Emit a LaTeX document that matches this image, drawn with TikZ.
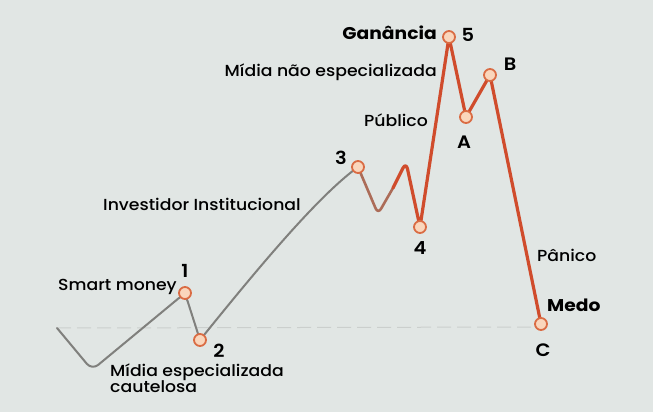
\documentclass[tikz,border=0pt]{standalone}
\usepackage{fontspec}
\setmainfont{Poppins}
\newfontfamily\medfont{Poppins Medium}[FakeStretch=1.08]
\newfontfamily\boldfont{Poppins SemiBold}[FakeStretch=1.08]
\newfontfamily\heavyfont{Poppins Bold}[FakeStretch=1.1]
\definecolor{bgc}{RGB}{225,230,228}
\definecolor{greyline}{RGB}{128,128,125}
\definecolor{redline}{RGB}{208,76,44}
\definecolor{mixline}{RGB}{172,108,88}
\definecolor{peach}{RGB}{250,214,188}
\definecolor{ptedge}{RGB}{218,108,68}
\definecolor{basec}{RGB}{203,207,205}
\tikzset{
  ptc/.style={circle, draw=ptedge, fill=peach, line width=1.8pt, minimum size=12pt, inner sep=0pt},
  lbl/.style={font=\medfont\fontsize{16}{17}\selectfont, text=black, inner sep=0pt},
  blbl/.style={font=\heavyfont\fontsize{17}{18}\selectfont, text=black, inner sep=0pt},
  num/.style={font=\boldfont\fontsize{18}{19}\selectfont, text=black, inner sep=0pt},
  gline/.style={draw=greyline, line width=2pt, line join=round, line cap=round},
  rline/.style={draw=redline, line width=3.2pt, line join=round, line cap=round},
}
\begin{document}
\begin{tikzpicture}[x=1pt,y=-1pt]
\fill[bgc] (0,0) rectangle (653,412);
\useasboundingbox (0,0) rectangle (653,412);
% baseline
\coordinate (b0) at (57,328);
\coordinate (b1) at (540,327);
\draw[basec, line width=1pt, dash pattern=on 14pt off 6pt] (b0) -- (b1);
% coordinates
\coordinate (s) at (57,328);
\coordinate (v) at (92,370);
\coordinate (c1) at (185,293);
\coordinate (c2) at (200,340);
\coordinate (c3) at (358,167);
\coordinate (w1) at (378,214);
\coordinate (w2) at (406,162);
\coordinate (c4) at (420,227);
\coordinate (c5) at (449,37);
\coordinate (cA) at (466,117);
\coordinate (cB) at (490,75);
\coordinate (cC) at (541,324);
% grey line
\draw[gline, rounded corners=8pt] (s) -- (v) -- (c1) -- (c2);
\draw[gline] (c2) .. controls (258,268) and (318,196) .. (c3);
% mixed / red line
\draw[draw=mixline, line width=2.6pt, line join=round, line cap=round, rounded corners=6pt] (c3) -- (w1) -- (393,188);
\draw[rline, rounded corners=7pt] (393,188) -- (w2) -- (c4) -- (c5) -- (cA) -- (cB) -- (cC);
% points
\node[ptc] (p1) at (c1) {};
\node[ptc] (p2) at (c2) {};
\node[ptc] (p3) at (c3) {};
\node[ptc] (p4) at (c4) {};
\node[ptc] (p5) at (c5) {};
\node[ptc] (pA) at (cA) {};
\node[ptc] (pB) at (cB) {};
\node[ptc] (pC) at (cC) {};
% labels
\node[lbl, anchor=west] (tsm) at (58,287) {Smart money};
\node[num] (n1) at (185,271) {1};
\node[num] (n2) at (219,351) {2};
\node[lbl, anchor=west] (tme) at (110,372) {Mídia especializada};
\node[lbl, anchor=west] (tca) at (110,387) {cautelosa};
\node[lbl, anchor=west] (tii) at (103,204) {Investidor Institucional};
\node[num] (n3) at (341,158) {3};
\node[num] (n4) at (420,248) {4};
\node[lbl, anchor=east] (tmn) at (437,72) {Mídia não especializada};
\node[blbl, anchor=east] (tga) at (437,33) {Ganância};
\node[num] (n5) at (468,35) {5};
\node[lbl, anchor=east] (tpu) at (428,120) {Público};
\node[num] (nA) at (464,142) {A};
\node[num] (nB) at (510,64) {B};
\node[lbl, anchor=west] (tpa) at (537,255) {Pânico};
\node[blbl, anchor=west] (tmd) at (547,305) {Medo};
\node[num] (nC) at (543,350) {C};
\end{tikzpicture}
\end{document}
